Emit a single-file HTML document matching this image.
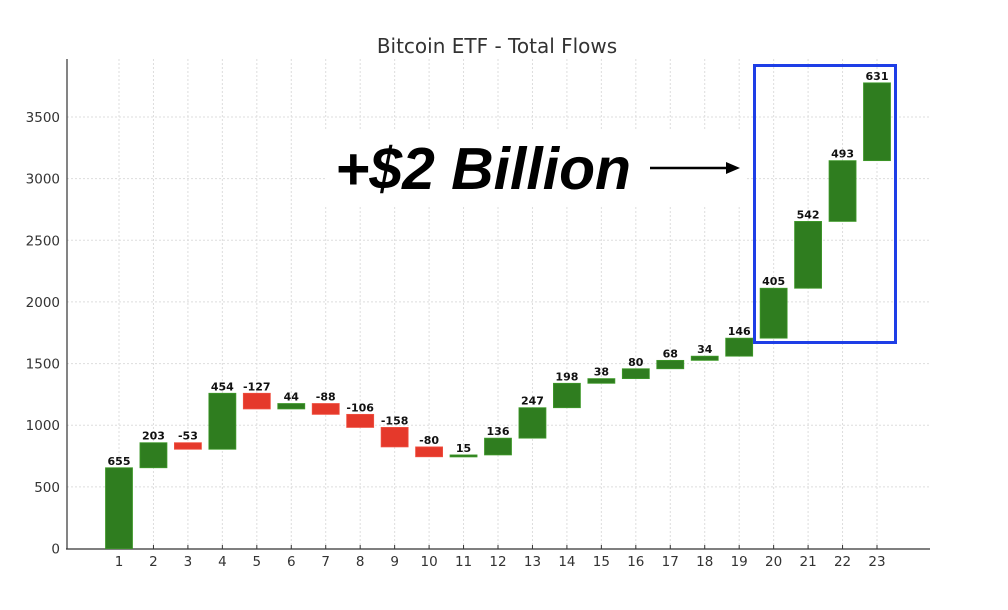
<!DOCTYPE html>
<html><head><meta charset="utf-8"><style>
html,body{margin:0;padding:0;background:#fff;}
svg{display:block;font-family:"DejaVu Sans","Liberation Sans",sans-serif;}
</style></head><body>
<svg id="s" width="1008" height="610" xmlns="http://www.w3.org/2000/svg">
<rect width="1008" height="610" fill="#fff"/>
<text x="497" y="53" text-anchor="middle" font-size="20" fill="#333">Bitcoin ETF - Total Flows</text>
<g id="g"></g>
<g fill="#2f7d1f" stroke="#3f9a2a" stroke-width="0.8">
<rect x="105.5" y="467.75" width="27" height="80.75"/>
<rect x="139.95" y="442.72" width="27" height="25.03"/>
<rect x="208.86" y="393.28" width="27" height="55.97"/>
<rect x="277.77" y="403.52" width="27" height="5.42"/>
<rect x="450.05" y="454.93" width="27" height="2"/>
<rect x="484.5" y="438.16" width="27" height="16.77"/>
<rect x="518.95" y="407.71" width="27" height="30.45"/>
<rect x="553.41" y="383.3" width="27" height="24.41"/>
<rect x="587.86" y="378.61" width="27" height="4.68"/>
<rect x="622.32" y="368.75" width="27" height="9.86"/>
<rect x="656.77" y="360.37" width="27" height="8.38"/>
<rect x="691.23" y="356.17" width="27" height="4.19"/>
<rect x="725.68" y="338.17" width="27" height="18"/>
<rect x="760.14" y="288.24" width="27" height="49.93"/>
<rect x="794.59" y="221.42" width="27" height="66.82"/>
<rect x="829.05" y="160.64" width="27" height="60.78"/>
<rect x="863.5" y="82.85" width="27" height="77.79"/>
</g>
<g fill="#e5392b" stroke="#f05040" stroke-width="0.8">
<rect x="174.41" y="442.72" width="27" height="6.53"/>
<rect x="243.32" y="393.28" width="27" height="15.66"/>
<rect x="312.23" y="403.52" width="27" height="10.85"/>
<rect x="346.68" y="414.36" width="27" height="13.07"/>
<rect x="381.14" y="427.43" width="27" height="19.48"/>
<rect x="415.59" y="446.91" width="27" height="9.86"/>
</g>
<g font-size="11" font-weight="bold" fill="#111" text-anchor="middle">
<text x="119" y="464.75">655</text>
<text x="153.45" y="439.72">203</text>
<text x="187.91" y="439.72">-53</text>
<text x="222.36" y="390.28">454</text>
<text x="256.82" y="390.28">-127</text>
<text x="291.27" y="400.52">44</text>
<text x="325.73" y="400.52">-88</text>
<text x="360.18" y="411.36">-106</text>
<text x="394.64" y="424.43">-158</text>
<text x="429.09" y="443.91">-80</text>
<text x="463.55" y="451.93">15</text>
<text x="498" y="435.16">136</text>
<text x="532.45" y="404.71">247</text>
<text x="566.91" y="380.3">198</text>
<text x="601.36" y="375.61">38</text>
<text x="635.82" y="365.75">80</text>
<text x="670.27" y="357.37">68</text>
<text x="704.73" y="353.17">34</text>
<text x="739.18" y="335.17">146</text>
<text x="773.64" y="285.24">405</text>
<text x="808.09" y="218.42">542</text>
<text x="842.55" y="157.64">493</text>
<text x="877" y="79.85">631</text>
</g>
<text x="483" y="189" text-anchor="middle" font-size="59" font-weight="bold" font-style="italic" font-family="Liberation Sans,sans-serif" fill="#000" textLength="296" lengthAdjust="spacingAndGlyphs">+$2 Billion</text>
<line x1="650" y1="168" x2="728" y2="168" stroke="#000" stroke-width="2.5"/>
<polygon points="740,168 726,162 726,174" fill="#000"/>
<rect x="754.5" y="65.5" width="141" height="277" fill="none" stroke="#1e3ee6" stroke-width="3"/>
</svg>
<script>
var y0=548.5,k=(548.5-117)/3500,x0=119,dx=(877-119)/22;
function Y(v){return y0-v*k;}
var h='';
for(var i=0;i<23;i++){var x=x0+i*dx;h+='<line x1="'+x+'" y1="59" x2="'+x+'" y2="548" stroke="#ddd" stroke-dasharray="2,2"/>';}
for(var v=500;v<=3500;v+=500){h+='<line x1="67" y1="'+Y(v)+'" x2="930" y2="'+Y(v)+'" stroke="#ddd" stroke-dasharray="2,2"/>';}
h+='<rect x="325" y="130" width="420" height="75" fill="#fff"/>';
h+='<line x1="67" y1="59" x2="67" y2="549" stroke="#333" stroke-width="1.2"/>';
h+='<line x1="66" y1="549" x2="930" y2="549" stroke="#333" stroke-width="1.2"/>';
for(var v=0;v<=3500;v+=500){h+='<text x="60" y="'+(Y(v)+5)+'" text-anchor="end" font-size="13.5" fill="#333">'+v+'</text>';}
for(var i=0;i<23;i++){var x=x0+i*dx;
 h+='<line x1="'+x+'" y1="549" x2="'+x+'" y2="545" stroke="#333"/>';
 h+='<text x="'+x+'" y="566" text-anchor="middle" font-size="13.5" fill="#333">'+(i+1)+'</text>';}
document.getElementById('g').innerHTML=h;
</script>
</body></html>
